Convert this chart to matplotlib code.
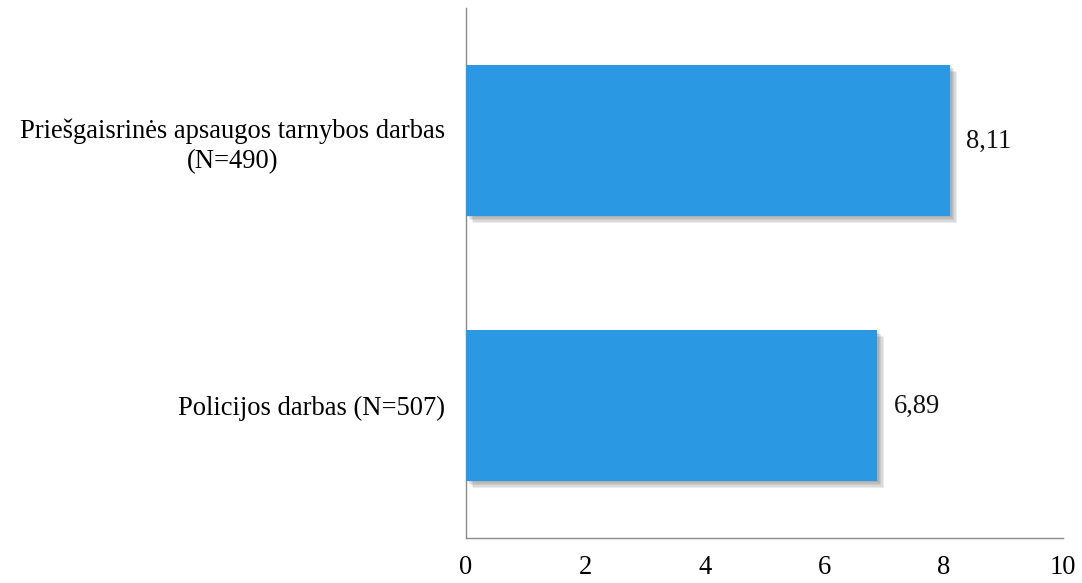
import matplotlib
matplotlib.use("Agg")
import matplotlib.pyplot as plt
import matplotlib.patheffects as pe

categories = ["Policijos darbas (N=507)", "Priešgaisrinės apsaugos tarnybos darbas\n(N=490)"]
values = [6.89, 8.11]
value_labels = ["6,89", "8,11"]
xticks = [0, 2, 4, 6, 8, 10]

plt.rcParams['font.family'] = ['Liberation Serif', 'DejaVu Serif']
FS = 19.1

fig = plt.figure(figsize=(10.82, 5.83), dpi=100)
ax = fig.add_axes([466/1082, 45/583, (1063-466)/1082, (538-8)/583])

shadow = [pe.SimplePatchShadow(offset=(d, -d), shadow_rgbFace="#444444", alpha=0.10)
          for d in (1, 2, 3, 4, 5)] + [pe.Normal()]

ypos = list(range(len(categories)))
ax.barh(ypos, values, height=0.57, color="#2A98E2", path_effects=shadow, zorder=3)

for y, v, lab in zip(ypos, values, value_labels):
    ax.text(v + 0.27, y - 0.005, lab, va="center", ha="left", fontsize=FS, color="#111111")

ax.set_xlim(0, 10)
ax.set_ylim(-0.5, 1.5)
ax.set_xticks(xticks)
ax.set_xticklabels([str(t) for t in xticks], fontsize=FS)
ax.set_yticks(ypos)
ax.set_yticklabels(categories, fontsize=FS, ha="right", multialignment="center",
                   linespacing=1.3)
ax.tick_params(axis="y", length=0, pad=15)
ax.tick_params(axis="x", length=0, pad=12)

for s in ["top", "right"]:
    ax.spines[s].set_visible(False)
for s in ["left", "bottom"]:
    ax.spines[s].set_color("#8c8c8c")
    ax.spines[s].set_linewidth(1.0)

fig.savefig("out.png", dpi=100)
